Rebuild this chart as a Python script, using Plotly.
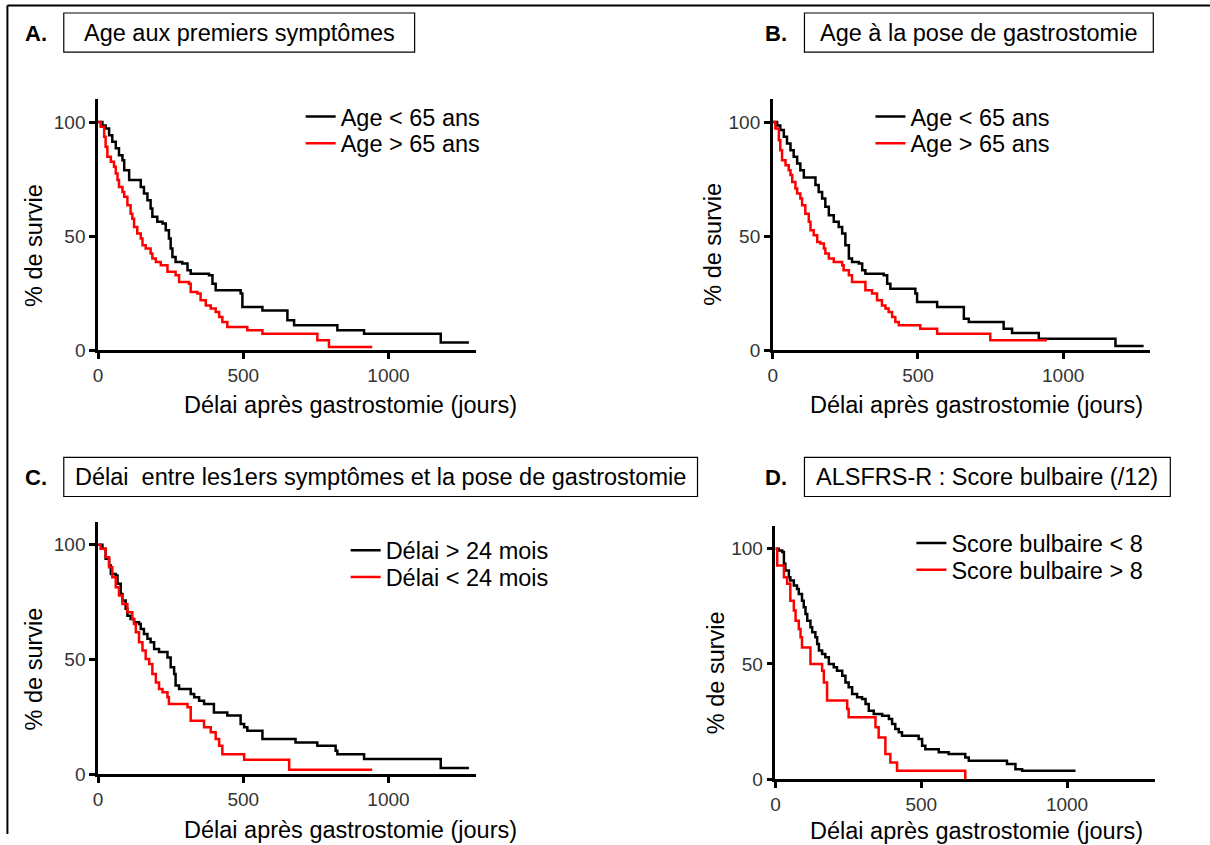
import plotly.graph_objects as go

W, H = 1210, 845

# ---------------- data (days, % survival) ----------------
a_lt65_t = [0, 15, 26, 38, 49, 61, 72, 84, 90, 107, 147, 158, 170, 181, 187, 204, 222, 233, 244, 250, 256, 267, 290, 308, 319, 382, 394, 405, 491, 497, 566, 652, 675, 824, 916, 1180, 1277]
a_lt65_s = [100, 98.5, 97.2, 94.3, 91.4, 88.5, 85.5, 83.3, 78.9, 74.6, 71.6, 68.7, 65.8, 62.1, 58.5, 56.3, 55.6, 52.6, 49, 44.6, 40.9, 38.7, 38, 35.1, 33.6, 32.9, 29.2, 26.3, 24.9, 19, 17.5, 13.2, 11, 8.8, 7.3, 3.4, 3.4]
a_gt65_t = [0, 9, 21, 26, 32, 44, 55, 61, 67, 72, 84, 90, 101, 112, 118, 124, 135, 147, 153, 164, 181, 187, 199, 216, 239, 267, 279, 313, 319, 342, 353, 371, 388, 405, 417, 428, 445, 514, 566, 755, 795, 944]
a_gt65_s = [100, 98, 93.6, 89.2, 84.8, 82.6, 80.4, 77.5, 74.6, 71.6, 69.4, 67.3, 63.6, 59.9, 57.7, 54.1, 51.2, 49, 46, 44.6, 42.4, 40.2, 38.7, 37.3, 34.4, 32.9, 30, 29.2, 25.6, 24.9, 21.9, 19.7, 18.3, 16.8, 14.6, 12.4, 10.2, 8.8, 7.3, 4.4, 1.5, 1.5]

b_lt65_t = [0, 15, 26, 38, 49, 61, 72, 84, 95, 107, 147, 158, 170, 181, 193, 210, 227, 239, 250, 262, 273, 296, 308, 319, 382, 394, 405, 491, 497, 566, 658, 675, 795, 824, 916, 1180, 1277]
b_lt65_s = [100, 98.5, 96.5, 93.6, 90.6, 87.7, 84.8, 81.9, 78.9, 75.7, 72.4, 69.4, 66.5, 62.9, 59.2, 56.3, 54.1, 51.2, 46, 40.2, 38.7, 38, 35.1, 33.6, 32.9, 29.2, 27, 24.9, 21.2, 19, 13.9, 12.4, 9.5, 7.6, 5.1, 1.9, 1.9]
b_gt65_t = [0, 9, 21, 26, 32, 44, 55, 61, 67, 78, 84, 95, 101, 112, 124, 130, 141, 153, 164, 176, 181, 193, 210, 239, 244, 262, 273, 319, 342, 359, 376, 388, 399, 411, 422, 434, 508, 566, 749, 944]
b_gt65_s = [100, 97.2, 92.1, 87.7, 83.3, 81.1, 78.9, 76.8, 73.8, 70.9, 68.7, 66.5, 63.6, 59.9, 56.3, 52.6, 50.4, 47.5, 46.8, 44.6, 42.4, 40.2, 38.7, 37.3, 35.1, 32.9, 30, 26.3, 24.9, 21.9, 19.7, 18.3, 16.8, 14.6, 12.4, 11, 9.5, 7.3, 4.4, 4.4]

c_gt24_t = [0, 15, 26, 38, 44, 61, 67, 78, 84, 95, 101, 112, 124, 141, 147, 158, 170, 181, 193, 210, 239, 250, 262, 267, 279, 319, 331, 348, 365, 399, 445, 491, 503, 514, 566, 680, 755, 818, 824, 916, 1180, 1277]
c_gt24_s = [100, 98.3, 93.9, 91, 87.3, 86.6, 83, 78.6, 75.7, 72.1, 69.1, 67.7, 66.2, 65.5, 63.3, 61.1, 59, 57.5, 54.6, 53.2, 50.9, 46.6, 43.7, 38.6, 37.1, 34.9, 33.5, 32, 30.6, 26.9, 25.5, 21.8, 20.4, 18.9, 15.3, 13.8, 12.4, 10.2, 8.7, 6.6, 2.6, 2.6]
c_lt24_t = [0, 9, 26, 38, 49, 61, 72, 84, 101, 118, 124, 130, 141, 153, 164, 176, 187, 199, 210, 222, 239, 244, 308, 319, 365, 388, 405, 417, 428, 503, 658, 944]
c_lt24_s = [100, 98.3, 94.6, 90.2, 85.9, 81.5, 77.9, 74.2, 70.6, 67.7, 65.5, 61.9, 57.5, 53.9, 50.2, 48, 43.7, 40, 37.1, 35.7, 33.5, 30.6, 29.1, 23.3, 20.4, 18.2, 15.3, 12.4, 8.7, 6.3, 1.9, 1.9]

d_lt8_t = [0, 11, 23, 29, 34, 46, 51, 63, 74, 80, 91, 97, 103, 109, 120, 126, 137, 143, 149, 160, 171, 183, 200, 211, 229, 240, 251, 263, 280, 297, 309, 320, 337, 366, 389, 400, 411, 423, 434, 491, 503, 514, 560, 594, 651, 663, 794, 823, 846, 1029]
d_lt8_s = [100, 99.3, 98.6, 93.5, 90.6, 87.7, 86.2, 84.1, 82.6, 80.4, 77.5, 74.6, 71.7, 68.8, 65.9, 63.8, 61.6, 58.7, 55.8, 54.3, 52.9, 50, 48.6, 47.1, 44.9, 42, 39.9, 37, 35.5, 34.8, 32.6, 29.7, 28.3, 27.5, 26.1, 23.9, 21.7, 20.3, 18.8, 17.4, 14.5, 13, 11.6, 10.9, 9.4, 8, 6.5, 4.3, 3.6, 3.6]
d_gt8_t = [0, 6, 29, 40, 51, 63, 69, 80, 86, 91, 120, 160, 166, 177, 246, 251, 343, 354, 377, 394, 417, 651]
d_gt8_s = [100, 92.8, 87.7, 84.8, 77.5, 73.2, 68.8, 65.2, 61.6, 57.2, 50, 47.1, 42, 34.1, 30.4, 26.8, 22.5, 18.1, 10.9, 7.2, 3.6, 0]

panel_letters = ["A.", "B.", "C.", "D."]
panel_titles = ["Age aux premiers symptômes",
                "Age à la pose de gastrostomie",
                "Délai\u00a0 entre les1ers symptômes et la pose de gastrostomie",
                "ALSFRS-R : Score bulbaire (/12)"]
legend_names = [("Age < 65 ans", "Age > 65 ans"),
                ("Age < 65 ans", "Age > 65 ans"),
                ("Délai > 24 mois", "Délai < 24 mois"),
                ("Score bulbaire < 8", "Score bulbaire > 8")]
x_ticks = [0, 500, 1000]
y_ticks = [0, 50, 100]
x_title = "Délai après gastrostomie (jours)"
y_title = "% de survie"

series = [
    (a_lt65_t, a_lt65_s, a_gt65_t, a_gt65_s),
    (b_lt65_t, b_lt65_s, b_gt65_t, b_gt65_s),
    (c_gt24_t, c_gt24_s, c_lt24_t, c_lt24_s),
    (d_lt8_t, d_lt8_s, d_gt8_t, d_gt8_s),
]

FONT = "Liberation Sans, Arial, sans-serif"
BIG = 23.5

# the photographed page shows a small offset / shrink; positions below are
# given in target-picture pixels and converted to layout fractions here
SX, OX, SY = 0.9963, 4.2, 0.986


def px(x):
    return ((x - OX) / SX) / W


def py(y):
    return 1 - (y / SY) / H


# plot area boxes in pixels: (left, right, top, bottom)
areas = [
    (97.3, 475.0, 99.2, 350.0),
    (772.3, 1150.0, 99.2, 350.0),
    (97.3, 475.0, 521.4, 773.3),
    (775.0, 1154.2, 525.3, 778.3),
]

# legend entries: (x of legend box, y of first-row centre)
legend_pos = [(300, 116.7), (870, 116.7), (345, 550), (911, 542.7)]
legend_pitch = 26.7

fig = go.Figure()
layout = dict(width=W, height=H, margin=dict(l=0, r=0, t=0, b=0), autosize=False,
              paper_bgcolor="white", plot_bgcolor="white",
              font=dict(family=FONT, color="black"), showlegend=True)

colors = ["black", "#ff0000"]
for i, (t1, s1, t2, s2) in enumerate(series):
    sfx = "" if i == 0 else str(i + 1)
    for j, (t, s) in enumerate([(t1, s1), (t2, s2)]):
        k = 2 * i + j + 1
        leg = "legend" if k == 1 else "legend" + str(k)
        fig.add_trace(go.Scatter(x=t, y=s, mode="lines",
                                 line=dict(color=colors[j], width=2.5, shape="hv"),
                                 name=legend_names[i][j], xaxis="x" + sfx, yaxis="y" + sfx,
                                 legend=leg))
        lx, ly = legend_pos[i]
        layout[leg] = dict(x=px(lx), y=py(ly + j * legend_pitch), xanchor="left", yanchor="middle",
                           bgcolor="rgba(0,0,0,0)", borderwidth=0,
                           font=dict(family=FONT, size=BIG, color="black"))

axis_common = dict(showline=True, linecolor="black", linewidth=2.5, ticks="outside", ticklen=6,
                   tickwidth=2.5, tickcolor="black", showgrid=False, zeroline=False,
                   tickfont=dict(family=FONT, size=19, color="#333333"))

for i, (l, r, t, b) in enumerate(areas):
    sfx = "" if i == 0 else str(i + 1)
    layout["xaxis" + sfx] = dict(axis_common, domain=[px(l), px(r)], range=[0, 1300], tickvals=x_ticks,
                                 anchor="y" + sfx)
    layout["yaxis" + sfx] = dict(axis_common, domain=[py(b), py(t)], range=[0, 110], tickvals=y_ticks,
                                 anchor="x" + sfx)

fig.update_layout(**layout)

annotations = []
shapes = []
letter_pos = [(35, 33), (776, 33), (35, 477), (776, 477)]
boxes = [(63, 414, 13, 52), (804, 1153, 13, 52), (63, 697, 457, 496), (804, 1170, 457, 496)]
for i in range(4):
    lx, ly = letter_pos[i]
    annotations.append(dict(text="<b>%s</b>" % panel_letters[i], x=px(lx), y=py(ly), xref="paper", yref="paper",
                            showarrow=False, font=dict(family=FONT, size=22, color="black"),
                            xanchor="center", yanchor="middle"))
    x0, x1, y0, y1 = boxes[i]
    shapes.append(dict(type="rect", xref="paper", yref="paper", x0=px(x0), x1=px(x1), y0=py(y1), y1=py(y0),
                       line=dict(color="black", width=1.2)))
    annotations.append(dict(text=panel_titles[i], x=px((x0 + x1) / 2), y=py((y0 + y1) / 2), xref="paper",
                            yref="paper", showarrow=False, font=dict(family=FONT, size=BIG, color="black"),
                            xanchor="center", yanchor="middle"))

ytitle_pos = [(33, 245), (713, 244), (33, 668), (715, 672)]
xtitle_pos = [(350, 405), (976, 405), (350, 829), (976, 830)]
for i in range(4):
    x, y = ytitle_pos[i]
    annotations.append(dict(text=y_title, x=px(x), y=py(y), xref="paper", yref="paper", showarrow=False,
                            textangle=-90, font=dict(family=FONT, size=BIG, color="black"),
                            xanchor="center", yanchor="middle"))
    x, y = xtitle_pos[i]
    annotations.append(dict(text=x_title, x=px(x), y=py(y), xref="paper", yref="paper", showarrow=False,
                            font=dict(family=FONT, size=BIG, color="black"),
                            xanchor="center", yanchor="middle"))

# outer frame: only the left and top edges fall inside the picture
fx = max(px(6.5), 0.002)
shapes.append(dict(type="line", xref="paper", yref="paper", x0=fx, x1=1, y0=py(5.5), y1=py(5.5),
                   line=dict(color="black", width=2)))
shapes.append(dict(type="line", xref="paper", yref="paper", x0=fx, x1=fx, y0=0, y1=py(5.5),
                   line=dict(color="black", width=2)))

fig.update_layout(annotations=annotations, shapes=shapes)

post = ("var s=document.documentElement.style;s.margin='0';s.padding='0';s.overflow='hidden';"
        "var b=document.body.style;b.margin='0';b.padding='0';b.overflow='hidden';")
fig.write_html("out.html", config={"displayModeBar": False}, post_script=post)
